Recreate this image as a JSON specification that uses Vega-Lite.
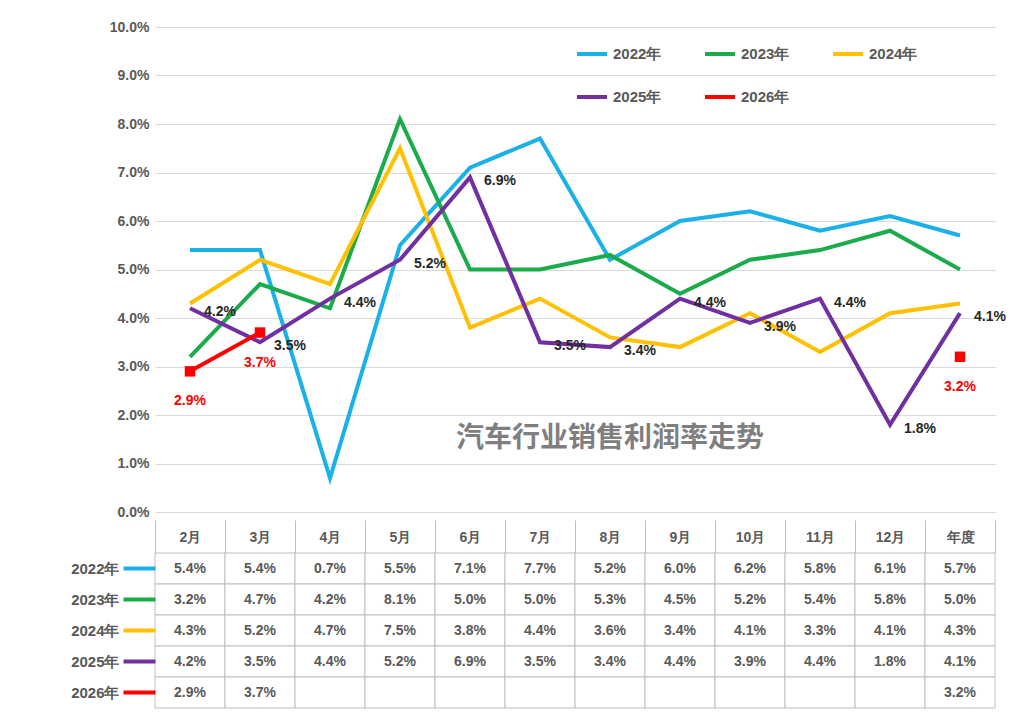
{
  "$schema": "https://vega.github.io/schema/vega-lite/v6.json",
  "background": "white",
  "padding": {"left": 45, "top": 20, "right": 10, "bottom": 5},
  "spacing": 0,
  "config": {
    "font": "Liberation Sans",
    "view": {"stroke": null},
    "axis": {"labelFont": "Liberation Sans", "labelFontWeight": "bold", "labelColor": "#595959", "labelFontSize": 14},
    "axisY": {"minExtent": 110},
    "concat": {"spacing": 0}
  },
  "data": {
    "values": [
      {"s": "2022年", "m": "2月", "v": 5.4}, {"s": "2022年", "m": "3月", "v": 5.4}, {"s": "2022年", "m": "4月", "v": 0.7}, {"s": "2022年", "m": "5月", "v": 5.5}, {"s": "2022年", "m": "6月", "v": 7.1}, {"s": "2022年", "m": "7月", "v": 7.7}, {"s": "2022年", "m": "8月", "v": 5.2}, {"s": "2022年", "m": "9月", "v": 6.0}, {"s": "2022年", "m": "10月", "v": 6.2}, {"s": "2022年", "m": "11月", "v": 5.8}, {"s": "2022年", "m": "12月", "v": 6.1}, {"s": "2022年", "m": "年度", "v": 5.7},
      {"s": "2023年", "m": "2月", "v": 3.2}, {"s": "2023年", "m": "3月", "v": 4.7}, {"s": "2023年", "m": "4月", "v": 4.2}, {"s": "2023年", "m": "5月", "v": 8.1}, {"s": "2023年", "m": "6月", "v": 5.0}, {"s": "2023年", "m": "7月", "v": 5.0}, {"s": "2023年", "m": "8月", "v": 5.3}, {"s": "2023年", "m": "9月", "v": 4.5}, {"s": "2023年", "m": "10月", "v": 5.2}, {"s": "2023年", "m": "11月", "v": 5.4}, {"s": "2023年", "m": "12月", "v": 5.8}, {"s": "2023年", "m": "年度", "v": 5.0},
      {"s": "2024年", "m": "2月", "v": 4.3}, {"s": "2024年", "m": "3月", "v": 5.2}, {"s": "2024年", "m": "4月", "v": 4.7}, {"s": "2024年", "m": "5月", "v": 7.5}, {"s": "2024年", "m": "6月", "v": 3.8}, {"s": "2024年", "m": "7月", "v": 4.4}, {"s": "2024年", "m": "8月", "v": 3.6}, {"s": "2024年", "m": "9月", "v": 3.4}, {"s": "2024年", "m": "10月", "v": 4.1}, {"s": "2024年", "m": "11月", "v": 3.3}, {"s": "2024年", "m": "12月", "v": 4.1}, {"s": "2024年", "m": "年度", "v": 4.3},
      {"s": "2025年", "m": "2月", "v": 4.2}, {"s": "2025年", "m": "3月", "v": 3.5}, {"s": "2025年", "m": "4月", "v": 4.4}, {"s": "2025年", "m": "5月", "v": 5.2}, {"s": "2025年", "m": "6月", "v": 6.9}, {"s": "2025年", "m": "7月", "v": 3.5}, {"s": "2025年", "m": "8月", "v": 3.4}, {"s": "2025年", "m": "9月", "v": 4.4}, {"s": "2025年", "m": "10月", "v": 3.9}, {"s": "2025年", "m": "11月", "v": 4.4}, {"s": "2025年", "m": "12月", "v": 1.8}, {"s": "2025年", "m": "年度", "v": 4.1},
      {"s": "2026年", "m": "2月", "v": 2.9}, {"s": "2026年", "m": "3月", "v": 3.7}, {"s": "2026年", "m": "4月", "v": null}, {"s": "2026年", "m": "5月", "v": null}, {"s": "2026年", "m": "6月", "v": null}, {"s": "2026年", "m": "7月", "v": null}, {"s": "2026年", "m": "8月", "v": null}, {"s": "2026年", "m": "9月", "v": null}, {"s": "2026年", "m": "10月", "v": null}, {"s": "2026年", "m": "11月", "v": null}, {"s": "2026年", "m": "12月", "v": null}, {"s": "2026年", "m": "年度", "v": 3.2}
    ]
  },
  "transform": [
    {"calculate": "datum.v == null ? '' : format(datum.v, '.1f') + '%'", "as": "lab"}
  ],
  "vconcat": [
    {
      "width": 840,
      "height": 485,
      "encoding": {
        "x": {"field": "m", "type": "ordinal", "sort": ["2月","3月","4月","5月","6月","7月","8月","9月","10月","11月","12月","年度"], "scale": {"type": "point", "padding": 0.5}, "axis": null},
        "y": {"field": "v", "type": "quantitative", "scale": {"domain": [0, 10]}, "title": null,
          "axis": {"tickCount": 10, "labelExpr": "format(datum.value, '.1f') + '%'", "domain": false, "ticks": false, "gridColor": "#d9d9d9", "labelPadding": 6}}
      },
      "layer": [
        {
          "transform": [{"filter": "datum.s != '2026年'"}],
          "mark": {"type": "line", "strokeWidth": 4},
          "encoding": {
            "color": {"field": "s", "type": "nominal",
              "scale": {"domain": ["2022年","2025年","2023年","2026年","2024年"], "range": ["#1ab0e8","#7030a0","#1aab4b","#ff0000","#ffc000"]},
              "legend": {"title": null, "orient": "none", "legendX": 420, "legendY": 10, "columns": 3, "symbolType": "stroke", "symbolSize": 900, "symbolStrokeWidth": 4, "labelFontSize": 15, "labelFontWeight": "bold", "labelColor": "#595959", "columnPadding": 35, "rowPadding": 18, "labelFont": "Liberation Sans"}}
          }
        },
        {
          "transform": [{"filter": "datum.s == '2026年' && (datum.m == '2月' || datum.m == '3月')"}],
          "mark": {"type": "line", "strokeWidth": 4, "color": "#ff0000"}
        },
        {
          "transform": [{"filter": "datum.s == '2026年' && datum.v != null"}],
          "mark": {"type": "point", "shape": "square", "filled": true, "size": 110, "color": "#ff0000", "opacity": 1}
        },
        {
          "transform": [{"filter": "datum.s == '2025年'"}],
          "mark": {"type": "text", "dx": 30, "dy": 4, "fontSize": 14, "fontWeight": "bold", "color": "#262626"},
          "encoding": {"text": {"field": "lab"}}
        },
        {
          "transform": [{"filter": "datum.s == '2026年' && datum.v != null"}],
          "mark": {"type": "text", "dy": 30, "fontSize": 14, "fontWeight": "bold", "color": "#ff0000"},
          "encoding": {"text": {"field": "lab"}}
        },
        {
          "transform": [{"filter": "datum.s == '2022年' && datum.m == '8月'"}],
          "mark": {"type": "text", "fontSize": 28, "fontWeight": "bold", "color": "#7f7f7f", "font": "Noto Sans CJK SC", "text": "汽车行业销售利润率走势"},
          "encoding": {"y": {"datum": 1.5}}
        }
      ]
    },
    {
      "width": 840,
      "height": 155,
      "encoding": {
        "x": {"field": "m", "type": "ordinal", "sort": ["2月","3月","4月","5月","6月","7月","8月","9月","10月","11月","12月","年度"], "scale": {"paddingInner": 0, "paddingOuter": 0},
          "axis": {"orient": "top", "title": null, "labelAngle": 0, "domain": false, "tickBand": "extent", "tickSize": 33, "tickColor": "#bfbfbf", "labelPadding": -24, "labelFontSize": 14, "maxExtent": 33, "minExtent": 33}},
        "y": {"field": "s", "type": "nominal", "sort": ["2022年","2023年","2024年","2025年","2026年"], "scale": {"paddingInner": 0, "paddingOuter": 0},
          "axis": {"title": null, "domain": false, "tickSize": 32, "tickWidth": 4, "labelPadding": 4, "labelFontSize": 15,
            "tickColor": {"expr": "datum.value == '2022年' ? '#1ab0e8' : datum.value == '2023年' ? '#1aab4b' : datum.value == '2024年' ? '#ffc000' : datum.value == '2025年' ? '#7030a0' : '#ff0000'"}}}
      },
      "layer": [
        {"mark": {"type": "rect", "fill": "white", "stroke": "#bfbfbf", "strokeWidth": 1}},
        {"mark": {"type": "text", "fontSize": 14, "fontWeight": "bold", "color": "#595959"}, "encoding": {"text": {"field": "lab"}}}
      ]
    }
  ]
}
